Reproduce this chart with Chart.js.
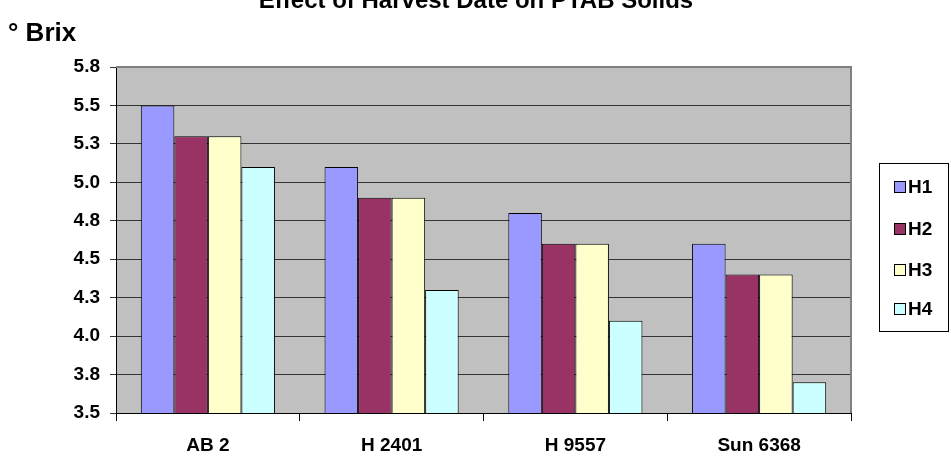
<!DOCTYPE html>
<html>
<head>
<meta charset="utf-8">
<script src="https://cdn.jsdelivr.net/npm/chart.js@4.4.1/dist/chart.umd.min.js"></script>
<style>
  html, body { margin: 0; padding: 0; background: #fff; }
  #wrap { width: 951px; height: 463px; }
</style>
</head>
<body>
<div id="wrap"><canvas id="myChart" width="951" height="463"></canvas></div>
<script>
// values
var categories = ['AB 2', 'H 2401', 'H 9557', 'Sun 6368'];
var seriesNames = ['H1', 'H2', 'H3', 'H4'];
var h1 = [5.5, 5.1, 4.8, 4.6];
var h2 = [5.3, 4.9, 4.6, 4.4];
var h3 = [5.3, 4.9, 4.6, 4.4];
var h4 = [5.1, 4.3, 4.1, 3.7];
var yTickLabels = ['3.5', '3.8', '4.0', '4.3', '4.5', '4.8', '5.0', '5.3', '5.5', '5.8'];
var colors = ['#9999FF', '#993366', '#FFFFCC', '#CCFFFF'];

var FONT = '"Liberation Sans", Arial, sans-serif';

// grey plot background + outer border on top/right
var plotBg = {
	id: 'plotBg',
	beforeDraw: function(chart) {
		var a = chart.chartArea, c = chart.ctx;
		c.save();
		c.fillStyle = '#C0C0C0';
		c.fillRect(a.left, a.top, a.right - a.left, a.bottom - a.top);
		c.restore();
	},
	afterDatasetsDraw: function(chart) {
		var a = chart.chartArea, c = chart.ctx;
		c.save();
		c.strokeStyle = '#808080';
		c.lineWidth = 2;
		c.beginPath();
		c.moveTo(a.left, a.top);
		c.lineTo(a.right, a.top);
		c.lineTo(a.right, a.bottom);
		c.stroke();
		c.restore();
	}
};

// title (clipped at top like the original), axis caption and boxed legend
var extras = {
	id: 'extras',
	afterDraw: function(chart) {
		var c = chart.ctx;
		c.save();
		c.fillStyle = '#000';
		c.font = 'bold 24px ' + FONT;
		c.textAlign = 'center';
		c.textBaseline = 'alphabetic';
		c.fillText('Effect of Harvest Date on PTAB Solids', 476, 8);

		c.font = 'bold 26px ' + FONT;
		c.textAlign = 'left';
		c.fillText('\u00B0 Brix', 8, 41);

		// legend
		c.strokeStyle = '#000';
		c.lineWidth = 1;
		c.strokeRect(879.5, 163.5, 69, 168);
		var ys = [187, 229, 270, 309];
		c.font = 'bold 19px ' + FONT;
		c.textBaseline = 'middle';
		chart.data.datasets.forEach(function(ds, i) {
			c.fillStyle = ds.backgroundColor;
			c.fillRect(894, ys[i] - 6, 12, 12);
			c.strokeRect(894.5, ys[i] - 5.5, 11, 11);
			c.fillStyle = '#000';
			c.fillText(ds.label, 908, ys[i] + 1);
		});
		c.restore();
	}
};

var seriesData = [h1, h2, h3, h4];
var datasets = seriesNames.map(function(name, i) {
	return {
		label: name,
		data: seriesData[i],
		backgroundColor: colors[i],
		borderColor: '#000',
		borderWidth: 1,
		borderSkipped: 'bottom',
		categoryPercentage: 0.73,
		barPercentage: 1.0
	};
});

var ctx = document.getElementById('myChart');
var myChart = new Chart(ctx, {
	type: 'bar',
	data: { labels: categories, datasets: datasets },
	plugins: [plotBg, extras],
	options: {
		responsive: false,
		animation: false,
		layout: { padding: { left: 0, right: 100, top: 67, bottom: 0 } },
		plugins: {
			legend: { display: false },
			tooltip: { enabled: false }
		},
		scales: {
			x: {
				offset: true,
				grid: {
					offset: true,
					drawOnChartArea: false,
					drawTicks: true,
					tickLength: 8,
					color: '#000'
				},
				border: { color: '#000', width: 1 },
				ticks: {
					color: '#000',
					padding: 13,
					font: { family: FONT, size: 19, weight: 'bold' }
				},
				afterFit: function(scale) { scale.height = 50; }
			},
			y: {
				min: 3.5,
				max: 5.75,
				grid: {
					color: '#333',
					lineWidth: 1,
					tickLength: 6
				},
				border: { color: '#000', width: 1 },
				ticks: {
					stepSize: 0.25,
					color: '#000',
					padding: 10,
					font: { family: FONT, size: 19, weight: 'bold' },
					callback: function(v, i) { return yTickLabels[i]; }
				},
				afterFit: function(scale) { scale.width = 116; }
			}
		}
	}
});
</script>
</body>
</html>
